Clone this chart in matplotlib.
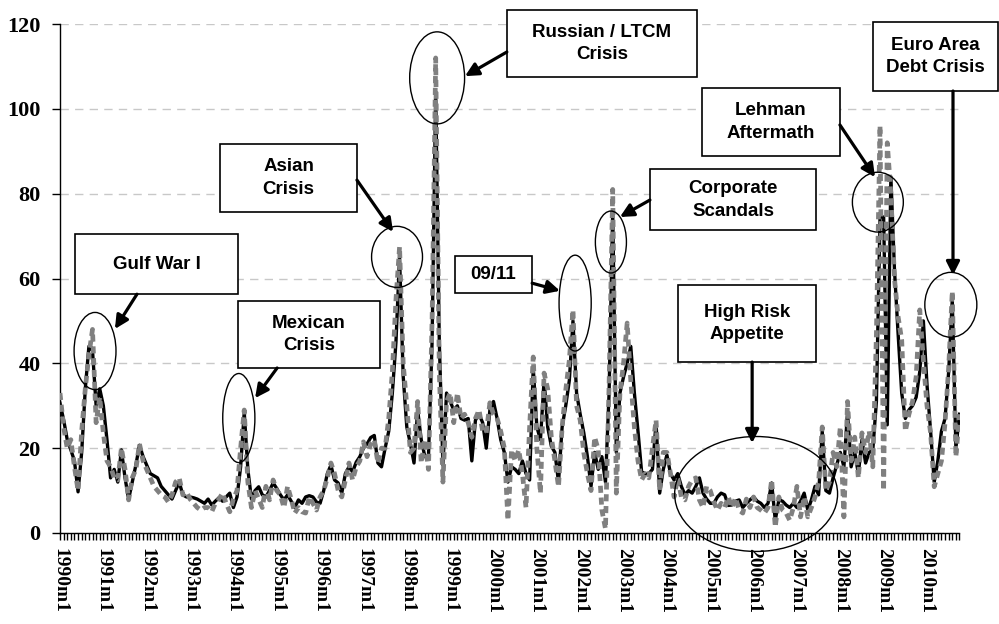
import numpy as np
import matplotlib.pyplot as plt
from matplotlib.patches import Ellipse, Rectangle

# monthly series, 1990m1 onwards
black_vals = [
    30.6, 26.7, 22, 19.6, 17, 9.7, 19, 34, 44, 43, 30, 34,
    30, 22, 13, 15, 12, 19.6, 13, 8, 12, 16, 20.7, 18,
    16, 14, 13.5, 13, 11, 10, 9, 8, 10, 12, 9, 8.5,
    8.5, 8.3, 8, 7.5, 7, 8, 6.6, 7.5, 8.3, 7.5, 8.5, 9.4,
    6, 8.5, 15.6, 28.5, 15, 8, 10, 10.9, 9, 8.5, 10, 11.8,
    10.5, 9, 7.8, 9, 7.5, 6, 7.8, 7, 8.5, 8.8, 8.5, 7.3,
    7, 10, 14, 16, 12.5, 11.8, 9.4, 14, 15.6, 14.4, 16.7, 18,
    20, 21, 22.5, 23, 16.5, 15.6, 20, 24, 33, 45, 65, 37,
    25, 21, 16.5, 29, 22, 18, 18, 45, 104, 45, 16, 33,
    31, 29, 30, 27, 26.6, 27, 17, 26.6, 28, 26, 20, 29,
    31, 27, 22, 19, 12, 15.6, 15, 14, 17, 14, 12.5, 39,
    25, 22, 36, 25, 20.5, 19, 12, 25, 30, 36, 50, 33,
    28, 23.6, 18, 11, 19, 15, 18, 12, 33, 75.7, 19, 33,
    36.8, 40, 44, 33, 24, 14.4, 14, 14, 15, 26, 9.4, 15,
    18.4, 14, 12.5, 14, 11, 9, 10, 9.4, 11, 13, 9.4, 8,
    7, 7, 8.5, 9.4, 9, 6.5, 6.6, 7.5, 7.8, 6, 7, 7.8,
    8.5, 7.5, 7, 6, 7, 11.8, 3, 7.8, 7.5, 6.6, 6, 7,
    6, 7.5, 9.4, 5.4, 7.8, 11, 9, 24, 10, 9.4, 13, 16,
    19, 15.6, 28.5, 15.6, 19, 14, 22, 16.5, 19, 19.6, 31, 74.5,
    74.5, 25.5, 84, 62, 47, 33, 27, 29, 30, 32, 38, 50,
    35, 24, 12, 17, 24, 27, 38, 55, 20, 28,
]
grey_vals = [
    33, 25, 20, 22, 15.6, 10, 24, 34, 42, 48, 26, 32,
    23.6, 17, 15.6, 13, 12.5, 20, 15, 7.8, 13, 15, 21, 17,
    15, 13, 11, 10, 9, 8.5, 7.3, 9, 12, 13, 9, 9.7,
    8, 7, 6, 5.4, 6, 6, 5, 7, 8, 9.4, 7, 5,
    8, 10, 20, 29, 12, 6, 10, 8, 6, 11, 7.8, 12.5,
    10, 9, 6, 11, 8, 4.7, 6, 5, 4.7, 8.5, 7, 5.4,
    8.5, 10, 13, 16.5, 14, 10, 8.5, 12.5, 16.5, 12.5, 15.6, 17,
    21.5, 18, 21, 22, 16.5, 20, 20, 27, 38, 55, 67.5, 40,
    30, 19, 20, 31, 16.5, 22, 15, 50, 112, 38, 12, 31,
    33, 26, 33, 27, 28, 26, 22.6, 27, 29, 24, 23.6, 30.7,
    28, 27, 24, 20, 3, 19.6, 17, 19.6, 14, 6, 25, 41.5,
    20, 9.4, 37.7, 34, 22.6, 17, 10.9, 25, 33.7, 40.8, 52.6, 30,
    26.6, 18.9, 14, 10, 22.6, 19.6, 5.4, 1, 35, 81, 9.4, 33,
    40, 49.5, 36, 25, 17, 12.5, 14, 13, 20, 26.6, 10, 19,
    19, 14, 8.5, 13, 8.5, 7.8, 11, 12.5, 13, 7.8, 6, 11,
    10, 7.3, 5.4, 7, 6, 8.5, 6, 8.3, 5.4, 4.7, 8, 6,
    8.5, 6, 5.4, 4.7, 6, 12.5, 1.4, 8.5, 5.4, 4.7, 3, 6,
    11, 3.8, 8.5, 3.8, 6, 8.5, 12, 25, 10, 12, 19, 15.6,
    25, 3.8, 31, 17, 22.6, 13, 23.6, 19, 24, 15.6, 47, 96,
    10, 92, 80, 60, 51, 45.5, 24, 28, 31, 36.8, 52.6, 40.8,
    30, 23.6, 10.9, 14, 17, 26, 39, 57, 18, 28,
]
years = list(range(1990, 2011))
tick_labels = [f"{y}m1" for y in years]

# text, box (x0, x1, y0, y1), arrow start, arrow tip, ellipse (cx, cy, w, h) -- data units
notes = [
    ("Gulf War I", (4.2, 49.3, 56.3, 70.5), (21.3, 56.3), (15.2, 48.1), (9.7, 42.9, 11.6, 18.2)),
    ("Mexican\nCrisis", (49.3, 88.6, 38.9, 54.7), (60.1, 38.9), (54.0, 31.8), (49.5, 27.1, 8.9, 21.0)),
    ("Asian\nCrisis", (44.3, 82.2, 75.7, 91.7), (82.2, 83.2), (92.2, 71.0), (93.3, 65.1, 14.1, 14.4)),
    ("Russian / LTCM\nCrisis", (123.7, 176.3, 107.5, 123.3), (123.7, 113.4), (112.1, 107.7), (104.4, 107.3, 15.2, 21.7)),
    ("09/11", (109.3, 130.7, 56.6, 65.3), (130.7, 58.9), (138.4, 57.1), (142.6, 54.2, 8.9, 22.6)),
    ("Corporate\nScandals", (163.3, 209.3, 71.4, 85.8), (163.3, 78.5), (155.0, 74.5), (152.5, 68.6, 8.6, 14.6)),
    ("Lehman\nAftermath", (177.7, 215.9, 88.9, 104.9), (215.9, 96.2), (225.6, 83.9), (226.4, 78.0, 14.1, 14.1)),
    ("Euro Area\nDebt Crisis", (225.1, 259.6, 104.2, 120.5), (247.2, 104.2), (247.2, 60.8), (246.6, 53.8, 14.4, 15.3)),
    ("High Risk\nAppetite", (171.1, 209.3, 40.3, 58.5), (191.6, 40.3), (191.6, 21.2), (192.7, 9.2, 45.1, 27.1)),
]

months = np.arange(len(black_vals))

fig = plt.figure(figsize=(9.99, 6.24), dpi=100)
ax = fig.add_axes([60 / 999, 91 / 624, 899.5 / 999, 509 / 624])

ax.plot(months, black_vals, color='black', lw=2.4, zorder=3)
ax.plot(months, grey_vals, color='#808080', lw=3.4, linestyle=(0, (1.5, 1.0)), zorder=4)

ax.set_xlim(0, len(black_vals) - 1)
ax.set_ylim(0, 120)
ax.set_yticks(range(0, 121, 20))
ax.yaxis.grid(True, color='#c8c8c8', lw=1, linestyle=(0, (6, 4.5)))
ax.set_axisbelow(True)

ax.set_xticks(np.arange(0, len(black_vals), 12))
ax.set_xticklabels(tick_labels, rotation=270, ha='center', va='top',
                   fontfamily='Liberation Serif', fontweight='bold', fontsize=14)
ax.set_xticks(months, minor=True)
ax.tick_params(axis='x', which='both', length=5, width=1, direction='out', pad=6)
ax.tick_params(axis='y', length=6, width=1, direction='out', pad=8)
for lab in ax.get_yticklabels():
    lab.set_fontfamily('Liberation Serif')
    lab.set_fontweight('bold')
    lab.set_fontsize(16)

for s in ['top', 'right']:
    ax.spines[s].set_visible(False)
for s in ['left', 'bottom']:
    ax.spines[s].set_linewidth(1)

for text, box, start, tip, ell in notes:
    x0, x1, y0, y1 = box
    ax.add_patch(Rectangle((x0, y0), x1 - x0, y1 - y0, facecolor='white',
                           edgecolor='black', lw=1.2, clip_on=False, zorder=6))
    ax.text((x0 + x1) / 2, (y0 + y1) / 2, text, ha='center', va='center',
            fontfamily='Liberation Sans', fontweight='bold', fontsize=13.5,
            linespacing=1.45, zorder=7, clip_on=False)
    cx, cy, w, h = ell
    ax.add_patch(Ellipse((cx, cy), w, h, fill=False, edgecolor='black', lw=1,
                         clip_on=False, zorder=5))
    ax.annotate('', xy=tip, xytext=start, annotation_clip=False, zorder=6,
                arrowprops=dict(arrowstyle='-|>', lw=2.3, color='black',
                                mutation_scale=20, shrinkA=0, shrinkB=0))

fig.savefig('out.png', dpi=100)
